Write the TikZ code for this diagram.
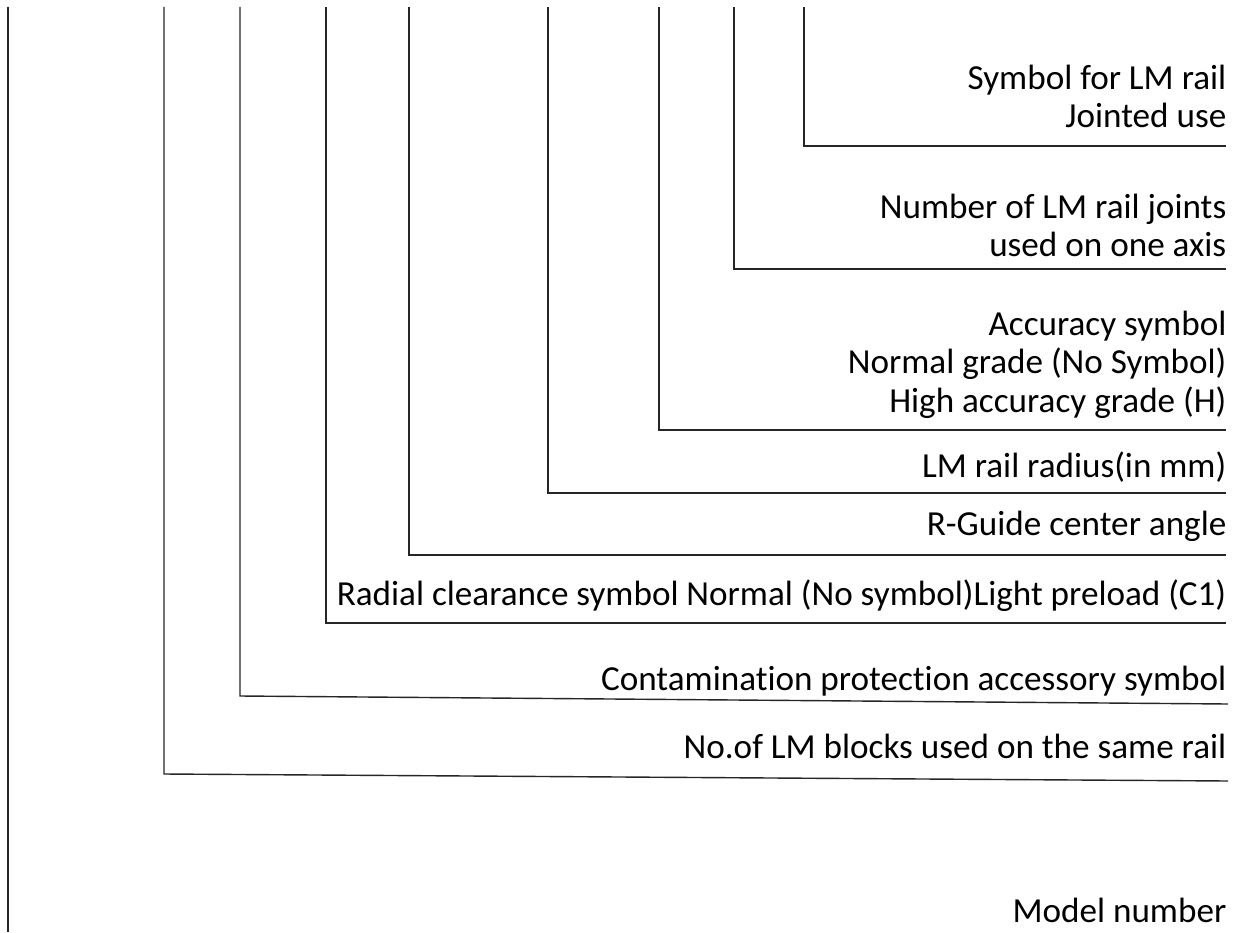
\documentclass[tikz,border=0pt]{standalone}
\usepackage{fontspec}
\setmainfont{Carlito}[Ligatures=CommonOff]
\usetikzlibrary{positioning}

\begin{document}
\begin{tikzpicture}[
  lead/.style={line width=0.4pt, color=black!85},
  lbl/.style={anchor=base east, align=right, inner sep=0pt, font=\fontsize{10}{10.95}\selectfont}]
\useasboundingbox (0,0) rectangle (12.45,9.32);
%
\coordinate (jt) at (8.04,9.25);
\coordinate (je) at (12.26,7.86);
\draw[lead] (jt) |- (je);
\node[lbl] (jlab) at (12.27,8.04) {Symbol for LM rail\\Jointed use};
%
\coordinate (nt) at (7.34,9.25);
\coordinate (ne) at (12.26,6.63);
\draw[lead] (nt) |- (ne);
\node[lbl] (nlab) at (12.27,6.75) {Number of LM rail joints\\used on one axis};
%
\coordinate (at) at (6.59,9.25);
\coordinate (ae) at (12.26,5.02);
\draw[lead] (at) |- (ae);
\node[lbl] (alab) at (12.27,5.20) {Accuracy symbol\\Normal grade (No Symbol)\\High accuracy grade (H)};
%
\coordinate (rt) at (5.48,9.25);
\coordinate (re) at (12.26,4.39);
\draw[lead] (rt) |- (re);
\node[lbl] (rlab) at (12.27,4.55) {LM rail radius(in mm)};
%
\coordinate (gt) at (4.09,9.25);
\coordinate (ge) at (12.26,3.77);
\draw[lead] (gt) |- (ge);
\node[lbl] (glab) at (12.27,3.97) {R-Guide center angle};
%
\coordinate (ct) at (3.26,9.25);
\coordinate (ce) at (12.26,3.09);
\draw[lead] (ct) |- (ce);
\node[lbl] (clab) at (12.27,3.27) {Radial clearance symbol Normal (No symbol)Light preload (C1)};
%
\coordinate (pt) at (2.40,9.25);
\coordinate (pc) at (2.40,2.36);
\coordinate (pe) at (12.28,2.28);
\draw[lead] (pt) -- (pc) -- (pe);
\node[lbl] (plab) at (12.27,2.42) {Contamination protection accessory symbol};
%
\coordinate (bt) at (1.64,9.25);
\coordinate (bc) at (1.64,1.58);
\coordinate (be) at (12.28,1.51);
\draw[lead] (bt) -- (bc) -- (be);
\node[lbl] (blab) at (12.27,1.74) {No.of LM blocks used on the same rail};
%
\coordinate (mt) at (0.08,9.25);
\coordinate (mb) at (0.08,0);
\draw[lead] (mt) -- (mb);
\node[lbl] (mlab) at (12.27,0.10) {Model number};
\end{tikzpicture}
\end{document}
